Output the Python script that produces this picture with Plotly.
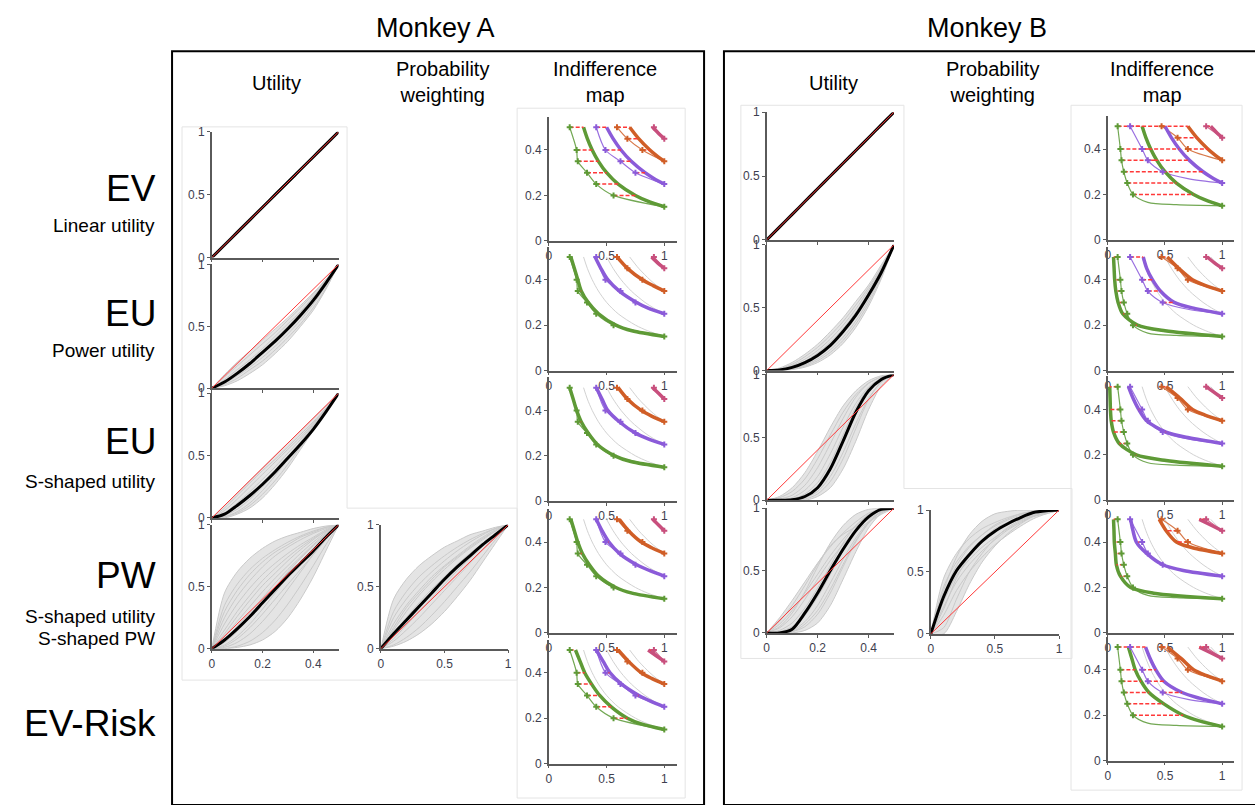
import plotly.graph_objects as go

W, H = 1255, 805
FONT = "Liberation Sans, Arial, sans-serif"

# ---------------- data ----------------
UX = [0, 0.05, 0.1, 0.15, 0.2, 0.25, 0.3, 0.35, 0.4, 0.45, 0.5]   # reward axis of utility panels
PX = [0, 0.1, 0.2, 0.3, 0.4, 0.5, 0.6, 0.7, 0.8, 0.9, 1.0]       # probability axis of PW panels
U_RED_X, U_RED_Y = [0, 0.5], [0, 1]
W_RED_X, W_RED_Y = [0, 1], [0, 1]

EV_BLACK = [0, 0.1, 0.2, 0.3, 0.4, 0.5, 0.6, 0.7, 0.8, 0.9, 1]

A_POW_BLACK = [0, 0.05, 0.12, 0.2, 0.29, 0.38, 0.48, 0.59, 0.71, 0.85, 1]
A_POW_GRAY = [
    [0, 0.09, 0.18, 0.27, 0.36, 0.45, 0.55, 0.65, 0.76, 0.88, 1],
    [0, 0.03, 0.08, 0.15, 0.22, 0.31, 0.41, 0.52, 0.65, 0.81, 1],
    [0, 0.07, 0.15, 0.23, 0.32, 0.42, 0.52, 0.62, 0.74, 0.87, 1],
    [0, 0.04, 0.1, 0.17, 0.25, 0.34, 0.44, 0.55, 0.68, 0.83, 1],
    [0, 0.11, 0.21, 0.3, 0.39, 0.48, 0.57, 0.67, 0.77, 0.88, 1],
    [0, 0.02, 0.06, 0.12, 0.19, 0.28, 0.38, 0.5, 0.63, 0.8, 1],
    [0, 0.06, 0.13, 0.21, 0.3, 0.4, 0.5, 0.61, 0.73, 0.86, 1],
]
A_S_BLACK = [0, 0.03, 0.1, 0.18, 0.27, 0.37, 0.48, 0.59, 0.71, 0.85, 1]
A_S_GRAY = [
    [0, 0.01, 0.05, 0.12, 0.22, 0.34, 0.47, 0.6, 0.73, 0.87, 1],
    [0, 0.06, 0.15, 0.25, 0.35, 0.45, 0.55, 0.65, 0.76, 0.88, 1],
    [0, 0.02, 0.07, 0.15, 0.25, 0.36, 0.48, 0.61, 0.74, 0.87, 1],
    [0, 0.08, 0.18, 0.28, 0.38, 0.47, 0.57, 0.67, 0.77, 0.88, 1],
    [0, 0.01, 0.04, 0.1, 0.19, 0.3, 0.43, 0.57, 0.71, 0.86, 1],
    [0, 0.04, 0.12, 0.21, 0.31, 0.41, 0.52, 0.63, 0.75, 0.87, 1],
    [0, 0.0, 0.03, 0.08, 0.16, 0.27, 0.4, 0.55, 0.7, 0.85, 1],
    [0, 0.1, 0.2, 0.3, 0.4, 0.5, 0.6, 0.7, 0.8, 0.9, 1],
]
A_PWU_BLACK = [0, 0.07, 0.16, 0.26, 0.37, 0.48, 0.59, 0.69, 0.79, 0.9, 1]
A_PWU_GRAY = [
    [0, 0.45, 0.62, 0.73, 0.81, 0.87, 0.91, 0.94, 0.97, 0.99, 1],
    [0, 0.35, 0.52, 0.64, 0.73, 0.8, 0.86, 0.91, 0.95, 0.98, 1],
    [0, 0.25, 0.42, 0.55, 0.66, 0.75, 0.82, 0.88, 0.93, 0.97, 1],
    [0, 0.15, 0.3, 0.43, 0.55, 0.65, 0.74, 0.82, 0.89, 0.95, 1],
    [0, 0.1, 0.22, 0.34, 0.46, 0.57, 0.67, 0.77, 0.86, 0.94, 1],
    [0, 0.03, 0.1, 0.2, 0.32, 0.45, 0.58, 0.7, 0.81, 0.91, 1],
    [0, 0.01, 0.05, 0.12, 0.22, 0.34, 0.48, 0.62, 0.76, 0.89, 1],
    [0, 0.0, 0.02, 0.06, 0.13, 0.23, 0.36, 0.51, 0.67, 0.84, 1],
    [0, 0.0, 0.01, 0.03, 0.07, 0.14, 0.25, 0.4, 0.58, 0.79, 1],
    [0, 0.05, 0.14, 0.25, 0.37, 0.5, 0.62, 0.73, 0.83, 0.92, 1],
    [0, 0.2, 0.36, 0.49, 0.6, 0.69, 0.77, 0.84, 0.9, 0.96, 1],
    [0, 0.02, 0.08, 0.17, 0.28, 0.4, 0.52, 0.64, 0.76, 0.88, 1],
    [0, 0.3, 0.47, 0.6, 0.7, 0.78, 0.84, 0.9, 0.94, 0.98, 1],
    [0, 0.12, 0.26, 0.39, 0.51, 0.61, 0.71, 0.8, 0.88, 0.95, 1],
    [0, 0.07, 0.18, 0.29, 0.41, 0.53, 0.64, 0.74, 0.84, 0.93, 1],
]
A_W_BLACK = [0, 0.12, 0.23, 0.34, 0.45, 0.56, 0.66, 0.75, 0.84, 0.92, 1]
A_W_GRAY = [
    [0, 0.4, 0.56, 0.67, 0.75, 0.82, 0.87, 0.92, 0.95, 0.98, 1],
    [0, 0.3, 0.46, 0.58, 0.67, 0.75, 0.82, 0.88, 0.93, 0.97, 1],
    [0, 0.2, 0.35, 0.47, 0.58, 0.67, 0.75, 0.83, 0.9, 0.96, 1],
    [0, 0.12, 0.25, 0.37, 0.48, 0.58, 0.68, 0.77, 0.85, 0.93, 1],
    [0, 0.06, 0.15, 0.25, 0.36, 0.47, 0.58, 0.69, 0.8, 0.9, 1],
    [0, 0.03, 0.09, 0.17, 0.27, 0.38, 0.5, 0.62, 0.75, 0.88, 1],
    [0, 0.15, 0.3, 0.43, 0.54, 0.64, 0.73, 0.81, 0.88, 0.95, 1],
    [0, 0.08, 0.19, 0.3, 0.41, 0.52, 0.63, 0.73, 0.83, 0.92, 1],
    [0, 0.25, 0.4, 0.52, 0.62, 0.71, 0.79, 0.86, 0.92, 0.97, 1],
    [0, 0.02, 0.06, 0.12, 0.2, 0.3, 0.42, 0.55, 0.7, 0.85, 1],
    [0, 0.17, 0.33, 0.45, 0.56, 0.66, 0.74, 0.82, 0.89, 0.95, 1],
    [0, 0.1, 0.22, 0.33, 0.44, 0.55, 0.65, 0.75, 0.84, 0.92, 1],
]

B_POW_BLACK = [0, 0.005, 0.025, 0.063, 0.12, 0.2, 0.31, 0.44, 0.6, 0.78, 1]
B_POW_GRAY = [
    [0, 0.02, 0.065, 0.13, 0.21, 0.31, 0.42, 0.55, 0.68, 0.84, 1],
    [0, 0.01, 0.04, 0.09, 0.16, 0.25, 0.36, 0.49, 0.64, 0.81, 1],
    [0, 0.003, 0.015, 0.044, 0.092, 0.165, 0.265, 0.395, 0.56, 0.76, 1],
    [0, 0.001, 0.008, 0.027, 0.064, 0.125, 0.216, 0.343, 0.512, 0.729, 1],
    [0, 0.014, 0.05, 0.11, 0.185, 0.28, 0.39, 0.52, 0.66, 0.82, 1],
    [0, 0.007, 0.032, 0.075, 0.14, 0.225, 0.335, 0.465, 0.62, 0.8, 1],
    [0, 0.002, 0.011, 0.035, 0.078, 0.145, 0.24, 0.37, 0.535, 0.745, 1],
]
B_S_BLACK = [0, 0, 0.005, 0.03, 0.1, 0.25, 0.47, 0.7, 0.87, 0.96, 1]
B_S_GRAY = [
    [0, 0.01, 0.04, 0.12, 0.26, 0.45, 0.65, 0.82, 0.93, 0.98, 1],
    [0, 0.0, 0.02, 0.08, 0.19, 0.37, 0.58, 0.77, 0.9, 0.97, 1],
    [0, 0, 0.0, 0.01, 0.05, 0.15, 0.33, 0.57, 0.8, 0.94, 1],
    [0, 0, 0.0, 0.02, 0.07, 0.19, 0.38, 0.61, 0.81, 0.94, 1],
    [0, 0.02, 0.07, 0.17, 0.33, 0.52, 0.7, 0.84, 0.93, 0.98, 1],
    [0, 0, 0.01, 0.05, 0.14, 0.3, 0.52, 0.74, 0.89, 0.97, 1],
    [0, 0.0, 0.0, 0.0, 0.03, 0.1, 0.25, 0.47, 0.72, 0.91, 1],
    [0, 0.03, 0.1, 0.22, 0.39, 0.58, 0.75, 0.87, 0.95, 0.99, 1],
]
B_PWU_BLACK = [0, 0.0, 0.03, 0.16, 0.32, 0.5, 0.67, 0.82, 0.93, 0.99, 1]
B_PWU_GRAY = [
    [0, 0.07, 0.18, 0.32, 0.47, 0.62, 0.75, 0.86, 0.94, 0.99, 1],
    [0, 0.12, 0.26, 0.41, 0.56, 0.69, 0.8, 0.89, 0.96, 0.99, 1],
    [0, 0.02, 0.08, 0.2, 0.36, 0.54, 0.72, 0.86, 0.95, 0.99, 1],
    [0, 0.0, 0.01, 0.05, 0.15, 0.32, 0.53, 0.73, 0.88, 0.97, 1],
    [0, 0.0, 0.02, 0.09, 0.22, 0.4, 0.59, 0.76, 0.89, 0.97, 1],
    [0, 0.04, 0.13, 0.27, 0.43, 0.58, 0.71, 0.81, 0.89, 0.95, 1],
    [0, 0.0, 0.0, 0.02, 0.08, 0.22, 0.43, 0.65, 0.84, 0.96, 1],
    [0, 0.01, 0.05, 0.14, 0.29, 0.47, 0.66, 0.82, 0.93, 0.99, 1],
    [0, 0.05, 0.16, 0.33, 0.53, 0.72, 0.86, 0.95, 0.99, 1, 1],
    [0, 0.0, 0.01, 0.07, 0.18, 0.35, 0.55, 0.74, 0.88, 0.97, 1],
    [0, 0.09, 0.22, 0.38, 0.55, 0.7, 0.79, 0.85, 0.91, 0.97, 1],
]
B_W_BLACK = [0, 0.3, 0.51, 0.64, 0.75, 0.83, 0.89, 0.94, 0.98, 0.995, 1]
B_W_GRAY = [
    [0, 0.45, 0.65, 0.77, 0.85, 0.9, 0.94, 0.97, 0.99, 1, 1],
    [0, 0.38, 0.58, 0.71, 0.8, 0.87, 0.92, 0.96, 0.98, 0.995, 1],
    [0, 0.22, 0.42, 0.56, 0.67, 0.76, 0.84, 0.9, 0.95, 0.98, 1],
    [0, 0.15, 0.35, 0.5, 0.62, 0.72, 0.8, 0.87, 0.93, 0.97, 1],
    [0, 0.32, 0.55, 0.7, 0.8, 0.88, 0.93, 0.97, 0.99, 1, 1],
    [0, 0.05, 0.28, 0.5, 0.65, 0.77, 0.86, 0.92, 0.96, 0.99, 1],
    [0, 0.0, 0.18, 0.4, 0.58, 0.71, 0.81, 0.89, 0.95, 0.98, 1],
    [0, 0.26, 0.47, 0.6, 0.7, 0.78, 0.85, 0.91, 0.95, 0.98, 1],
    [0, 0.35, 0.62, 0.8, 0.91, 0.97, 0.99, 1, 1, 1, 1],
    [0, 0.2, 0.45, 0.63, 0.76, 0.85, 0.9, 0.93, 0.95, 0.97, 1],
]

# indifference maps: reward levels (y) and probabilities (x)
G_Y = [0.5, 0.45, 0.4, 0.35, 0.3, 0.25, 0.2, 0.175, 0.15]
P_Y = [0.5, 0.45, 0.4, 0.35, 0.3, 0.275, 0.25]
O_Y = [0.5, 0.45, 0.4, 0.375, 0.35]
K_Y = [0.5, 0.475, 0.45]
EV_CURVES = {"g": [0.3, 0.333, 0.375, 0.429, 0.5, 0.6, 0.75, 0.857, 1.0],
             "p": [0.5, 0.556, 0.625, 0.714, 0.833, 0.909, 1.0],
             "o": [0.7, 0.778, 0.875, 0.933, 1.0],
             "k": [0.9, 0.947, 1.0]}

A_MODELS = [
    EV_CURVES,
    {"g": [0.19, 0.22, 0.25, 0.28, 0.34, 0.43, 0.58, 0.72, 1.0], "p": [0.40, 0.45, 0.51, 0.61, 0.76, 0.86, 1.0],
     "o": [0.59, 0.68, 0.81, 0.9, 1.0], "k": [0.89, 0.94, 1.0]},
    {"g": [0.18, 0.21, 0.24, 0.28, 0.34, 0.42, 0.57, 0.71, 1.0], "p": [0.41, 0.46, 0.51, 0.61, 0.75, 0.86, 1.0],
     "o": [0.6, 0.68, 0.8, 0.89, 1.0], "k": [0.9, 0.95, 1.0]},
    {"g": [0.19, 0.22, 0.25, 0.29, 0.35, 0.43, 0.58, 0.72, 1.0], "p": [0.41, 0.46, 0.52, 0.61, 0.76, 0.87, 1.0],
     "o": [0.61, 0.69, 0.8, 0.89, 1.0], "k": [0.9, 0.95, 1.0]},
    {"g": [0.23, 0.27, 0.31, 0.37, 0.44, 0.54, 0.68, 0.8, 1.0], "p": [0.41, 0.47, 0.53, 0.63, 0.78, 0.88, 1.0],
     "o": [0.6, 0.69, 0.8, 0.89, 1.0], "k": [0.86, 0.93, 1.0]},
]
B_MODELS = [
    EV_CURVES,
    {"g": [0.05, 0.055, 0.06, 0.07, 0.09, 0.13, 0.26, 0.5, 1.0], "p": [0.31, 0.34, 0.39, 0.46, 0.58, 0.75, 1.0],
     "o": [0.52, 0.62, 0.74, 0.85, 1.0], "k": [0.87, 0.93, 1.0]},
    {"g": [0.017, 0.02, 0.023, 0.03, 0.05, 0.1, 0.25, 0.51, 1.0], "p": [0.18, 0.22, 0.27, 0.34, 0.51, 0.71, 1.0],
     "o": [0.51, 0.63, 0.74, 0.85, 1.0], "k": [0.86, 0.93, 1.0]},
    {"g": [0.05, 0.054, 0.057, 0.066, 0.075, 0.11, 0.2, 0.4, 1.0], "p": [0.2, 0.22, 0.25, 0.34, 0.48, 0.66, 1.0],
     "o": [0.45, 0.51, 0.6, 0.74, 1.0], "k": [0.8, 0.9, 1.0]},
    {"g": [0.18, 0.21, 0.24, 0.29, 0.36, 0.49, 0.66, 0.8, 1.0], "p": [0.33, 0.37, 0.42, 0.49, 0.65, 0.8, 1.0],
     "o": [0.52, 0.64, 0.75, 0.86, 1.0], "k": [0.8, 0.9, 1.0]},
]

# measured indifference points
A_DATA = {"g": ([0.18, 0.24, 0.25, 0.33, 0.41, 0.56, 1.0], [0.5, 0.4, 0.35, 0.3, 0.25, 0.2, 0.15]),
          "p": ([0.41, 0.49, 0.62, 0.75, 1.0], [0.5, 0.4, 0.35, 0.3, 0.25]),
          "o": ([0.59, 0.68, 0.81, 1.0], [0.5, 0.45, 0.4, 0.35]),
          "k": ([0.91, 1.0], [0.5, 0.45])}
A_THIN = A_DATA
B_DATA = {"g": ([0.086, 0.11, 0.12, 0.14, 0.17, 0.22, 1.0], [0.5, 0.4, 0.35, 0.3, 0.25, 0.2, 0.15]),
          "p": ([0.195, 0.30, 0.35, 0.48, 1.0], [0.5, 0.4, 0.35, 0.3, 0.25]),
          "o": ([0.47, 0.61, 0.70, 1.0], [0.5, 0.45, 0.4, 0.35]),
          "k": ([0.86, 1.0], [0.5, 0.45])}
B_THIN = {"g": ([0.086, 0.11, 0.12, 0.14, 0.17, 0.22, 0.35, 0.6, 1.0], [0.5, 0.4, 0.35, 0.3, 0.25, 0.2, 0.165, 0.155, 0.15]),
          "p": ([0.195, 0.30, 0.35, 0.48, 0.7, 1.0], [0.5, 0.4, 0.35, 0.3, 0.27, 0.25]),
          "o": ([0.47, 0.61, 0.70, 1.0], [0.5, 0.45, 0.4, 0.35]),
          "k": ([0.86, 1.0], [0.5, 0.45])}

LEVELS = {"g": G_Y, "p": P_Y, "o": O_Y, "k": K_Y}
COLORS = {"g": "#5e9a36", "p": "#8b5bd9", "o": "#d05e27", "k": "#c84f7d"}
THIN_COLORS = {"g": "#73a854", "p": "#9a70e0", "o": "#d8794a", "k": "#d06c92"}

ROW_LABELS = [("EV", 185, ["Linear utility"], [222]),
              ("EU", 312, ["Power utility"], [350]),
              ("EU", 442, ["S-shaped utility"], [483]),
              ("PW", 579, ["S-shaped utility", "S-shaped PW"], [620, 643]),
              ("EV-Risk", 729, [], [])]

# ---------------- figure ----------------
fig = go.Figure()
GRAY = "#c9c9c9"
BAND = "rgba(205,205,205,0.55)"
RED = "#ff3838"
AXC = "#5a5a5a"
TICKF = dict(family=FONT, size=12, color="#3e3e4e")
n_axes = [0]


def new_axes(x0, x1, ytop, ybot, xr, yr, xtv, xtt, ytv, ytt, xlabels=True):
    n_axes[0] += 1
    n = n_axes[0]
    s = "" if n == 1 else str(n)
    common = dict(showline=True, linecolor=AXC, linewidth=1.5, ticks="outside", ticklen=3, tickwidth=1,
                  tickcolor=AXC, showgrid=False, zeroline=False, fixedrange=True, tickfont=TICKF,
                  tickmode="array")
    fig.update_layout(**{
        "xaxis" + s: dict(domain=[x0 / W, x1 / W], range=xr, anchor="y" + s, tickvals=xtv, ticktext=xtt,
                          showticklabels=xlabels, **common),
        "yaxis" + s: dict(domain=[1 - ybot / H, 1 - ytop / H], range=yr, anchor="x" + s, tickvals=ytv,
                          ticktext=ytt, **common)})
    return "x" + s, "y" + s


def line(ax, x, y, color, width, dash=None, shape="spline", fill=None, fillcolor=None):
    fig.add_trace(go.Scatter(x=x, y=y, mode="lines",
                             line=dict(color=color, width=width, dash=dash, shape=shape, smoothing=0.8),
                             fill=fill, fillcolor=fillcolor,
                             xaxis=ax[0], yaxis=ax[1], showlegend=False, hoverinfo="skip"))


def bundle(ax, xs, grays):
    if not grays:
        return
    lo = [min(g[i] for g in grays) for i in range(len(xs))]
    hi = [max(g[i] for g in grays) for i in range(len(xs))]
    line(ax, xs, lo, "rgba(0,0,0,0)", 0)
    line(ax, xs, hi, "rgba(0,0,0,0)", 0, fill="tonexty", fillcolor=BAND)
    for g in grays:
        line(ax, xs, g, GRAY, 1)


def utility_panel(x0, x1, ytop, ybot, grays, black, bottom):
    ax = new_axes(x0, x1, ytop, ybot, [0, 0.5], [0, 1], [0, 0.2, 0.4], ["0", "0.2", "0.4"],
                  [0, 0.5, 1], ["0", "0.5", "1"], xlabels=bottom)
    bundle(ax, UX, grays)
    line(ax, UX, black, "black", 3)
    line(ax, U_RED_X, U_RED_Y, RED, 1, shape="linear")


def weight_panel(x0, x1, ytop, ybot, grays, black):
    ax = new_axes(x0, x1, ytop, ybot, [0, 1], [0, 1], [0, 0.5, 1], ["0", "0.5", "1"],
                  [0, 0.5, 1], ["0", "0.5", "1"])
    bundle(ax, PX, grays)
    line(ax, PX, black, "black", 3)
    line(ax, W_RED_X, W_RED_Y, RED, 1, shape="linear")


def map_panel(x0, ppu, x1, ybot, model, data, thin, show_ev):
    ytop = ybot - 126
    ax = new_axes(x0, x1, ytop, ybot, [0, (x1 - x0) / ppu], [0, 0.545], [0, 0.5, 1], ["0", "0.5", "1"],
                  [0, 0.2, 0.4], ["0", "0.2", "0.4"])
    if show_ev:
        for c in "gpok":
            line(ax, EV_CURVES[c], LEVELS[c], "#d2d2d2", 1)
    for c in "gpok":
        line(ax, thin[c][0], thin[c][1], THIN_COLORS[c], 1.2)
    for c in "gpok":
        line(ax, model[c], LEVELS[c], COLORS[c], 3.5)
    dx, dy = [], []
    for c in "gpok":
        for xd, yd in zip(*data[c]):
            xm = model[c][LEVELS[c].index(yd)]
            if abs(xm - xd) > 0.005:
                dx += [xd, xm, None]
                dy += [yd, yd, None]
    fig.add_trace(go.Scatter(x=dx, y=dy, mode="lines", line=dict(color=RED, width=1.5, dash="4px,2px"),
                             xaxis=ax[0], yaxis=ax[1], showlegend=False, hoverinfo="skip"))
    for c in "gpok":
        fig.add_trace(go.Scatter(x=data[c][0], y=data[c][1], mode="markers",
                                 marker=dict(symbol="cross", size=5, color=COLORS[c]),
                                 xaxis=ax[0], yaxis=ax[1], showlegend=False, hoverinfo="skip", cliponaxis=False))


# Monkey A
A_UTIL = [(127, 255, [], EV_BLACK), (262, 388, A_POW_GRAY, A_POW_BLACK),
          (393, 520, A_S_GRAY, A_S_BLACK), (527, 653, A_PWU_GRAY, A_PWU_BLACK)]
for i, (yt, yb, g, b) in enumerate(A_UTIL):
    utility_panel(210, 337.5, yt, yb, g, b, i == 3)
weight_panel(380, 508, 527, 653, A_W_GRAY, A_W_BLACK)
for i, yb in enumerate([238, 370, 503, 637, 770]):
    map_panel(549, 116, 678, yb, A_MODELS[i], A_DATA, A_THIN, i > 0)

# Monkey B
B_UTIL = [(107, 237, [], EV_BLACK), (242, 370, B_POW_GRAY, B_POW_BLACK),
          (374, 502, B_S_GRAY, B_S_BLACK), (510, 637, B_PWU_GRAY, B_PWU_BLACK)]
for i, (yt, yb, g, b) in enumerate(B_UTIL):
    utility_panel(768, 896, yt, yb, g, b, i == 3)
weight_panel(933, 1062, 512, 638, B_W_GRAY, B_W_BLACK)
for i, yb in enumerate([237, 370, 502, 637, 767]):
    map_panel(1111, 115, 1238, yb, B_MODELS[i], B_DATA, B_THIN, i > 0)


# ---------------- frames & text ----------------
def P(x, y):
    return f"{x / W:.5f},{1 - y / H:.5f}"


shapes = []
frame = dict(type="path", xref="paper", yref="paper", line=dict(color="#e4e4e4", width=1), layer="below")
shapes.append(dict(frame, path=f"M{P(180,122)} L{P(346,122)} L{P(346,510)} L{P(517,510)} L{P(517,685)} L{P(180,685)} Z"))
shapes.append(dict(frame, path=f"M{P(517,103)} L{P(686,103)} L{P(686,805)} L{P(517,805)} Z"))
shapes.append(dict(frame, path=f"M{P(742,100)} L{P(906,100)} L{P(906,490)} L{P(1075,490)} L{P(1075,663)} L{P(742,663)} Z"))
shapes.append(dict(frame, path=f"M{P(1074,100)} L{P(1246,100)} L{P(1246,797)} L{P(1074,797)} Z"))
for x0, x1 in [(170, 705), (725, 1262)]:
    shapes.append(dict(type="rect", xref="paper", yref="paper", x0=x0 / W, x1=x1 / W, y0=1 - 812 / H,
                       y1=1 - 45 / H, line=dict(color="black", width=2)))

ann = []


def text(t, x, y, size, xanchor="center"):
    ann.append(dict(text=t, x=x / W, y=1 - y / H, xref="paper", yref="paper", xanchor=xanchor,
                    yanchor="middle", showarrow=False, font=dict(family=FONT, size=size, color="black")))


text("Monkey A", 435, 21, 27)
text("Monkey B", 990, 21, 27)
for cx in [(275, 442, 605), (835, 995, 1166)]:
    text("Utility", cx[0], 77, 20)
    text("Probability<br>weighting", cx[1], 76, 20)
    text("Indifference<br>map", cx[2], 76, 20)
for big, by, smalls, sys_ in ROW_LABELS:
    text(big, 156, by, 37, "right")
    for s, sy in zip(smalls, sys_):
        text(s, 155, sy, 19, "right")

fig.update_layout(width=W, height=H, margin=dict(l=0, r=0, t=0, b=0), paper_bgcolor="white",
                  plot_bgcolor="rgba(0,0,0,0)", shapes=shapes, annotations=ann, showlegend=False)
fig.write_html("out.html", config={"displayModeBar": False},
               post_script="document.body.style.margin='0';document.body.style.padding='0';"
                           "document.body.style.overflow='hidden';"
                           "document.documentElement.style.overflow='hidden';")
